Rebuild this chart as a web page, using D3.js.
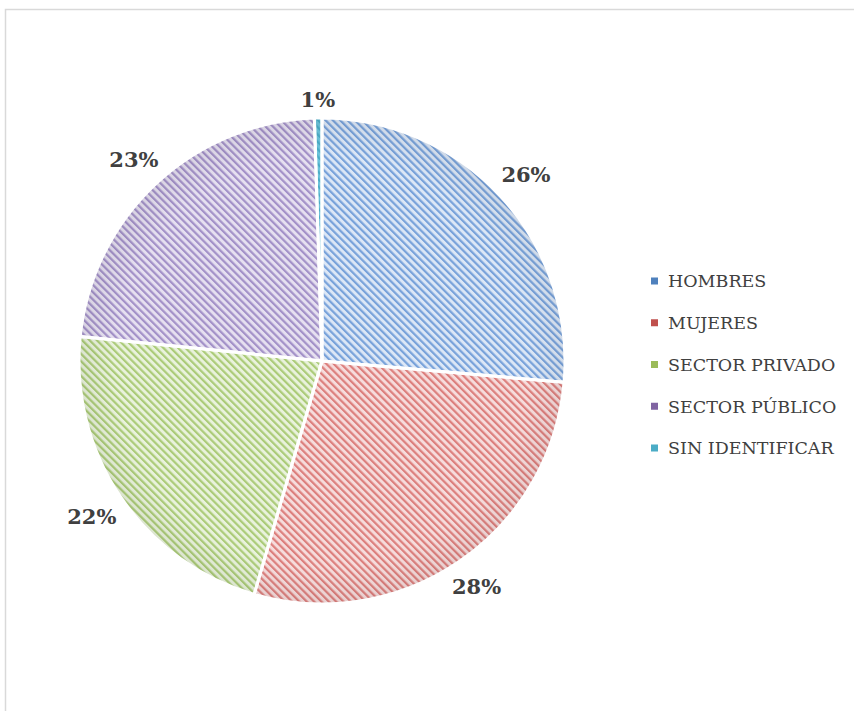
<!DOCTYPE html>
<html>
<head>
<meta charset="utf-8">
<script src="https://cdn.jsdelivr.net/npm/d3@7"></script>
<style>
  html, body { margin: 0; padding: 0; background: #fff; }
  svg { display: block; }
</style>
</head>
<body>
<svg id="chart" width="854" height="711"></svg>
<script>
// Categories, shares and colours
const categories = ["HOMBRES", "MUJERES", "SECTOR PRIVADO", "SECTOR PÚBLICO", "SIN IDENTIFICAR"];
const shares = [26.4, 28.1, 22.1, 22.9, 0.5];
const baseColors = ["#4f81bd", "#c0504d", "#9bbb59", "#8064a2", "#4bacc6"];
const lightColors = ["#dce7f6", "#f6dcdc", "#e9f2dc", "#e6e0f0", "#6cc3da"];
const stripeColors = ["#78a2da", "#dc7f7d", "#abcb78", "#a391c8", "#4bacc6"];

const WIDTH = 854;
const HEIGHT = 711;
const CX = 322;
const CY = 361;
const RADIUS = 243;

// Gap between the label box and the pie edge
const LABEL_PAD = 9;

const svg = d3.select("#chart");

// outer frame of the chart area (runs off the right and bottom)
svg.append("rect")
  .attr("x", 5.5)
  .attr("y", 9.5)
  .attr("width", WIDTH)
  .attr("height", HEIGHT)
  .attr("fill", "#fff")
  .attr("stroke", "#d9d9d9")
  .attr("stroke-width", 1.5);

const defs = svg.append("defs");

// diagonal hatch for each slice
categories.forEach((c, i) => {
  const p = defs.append("pattern")
    .attr("id", "hatch" + i)
    .attr("patternUnits", "userSpaceOnUse")
    .attr("width", 5.2)
    .attr("height", 5.2)
    .attr("patternTransform", "rotate(-45)");
  p.append("rect")
    .attr("width", 5.2)
    .attr("height", 5.2)
    .attr("fill", lightColors[i]);
  p.append("rect")
    .attr("width", 2.2)
    .attr("height", 5.2)
    .attr("fill", stripeColors[i]);
});

// slight darkening towards the rim
const shade = defs.append("radialGradient")
  .attr("id", "shade")
  .attr("gradientUnits", "userSpaceOnUse")
  .attr("cx", 0)
  .attr("cy", 0)
  .attr("r", RADIUS);
shade.append("stop").attr("offset", "0.85").attr("stop-color", "#000").attr("stop-opacity", 0);
shade.append("stop").attr("offset", "1").attr("stop-color", "#000").attr("stop-opacity", 0.06);

const pie = d3.pie()
  .sort(null)
  .value((d) => d);

const arcs = pie(shares);

const arc = d3.arc()
  .innerRadius(0)
  .outerRadius(RADIUS);

const g = svg.append("g")
  .attr("transform", `translate(${CX},${CY})`);

g.selectAll("path.slice")
  .data(arcs)
  .join("path")
  .attr("class", "slice")
  .attr("d", arc)
  .attr("fill", (d, i) => "url(#hatch" + i + ")");

g.selectAll("path.shade")
  .data(arcs)
  .join("path")
  .attr("class", "shade")
  .attr("d", arc)
  .attr("fill", "url(#shade)");

// white separators drawn on top
g.selectAll("path.sep")
  .data(arcs)
  .join("path")
  .attr("class", "sep")
  .attr("d", arc)
  .attr("fill", "none")
  .attr("stroke", "#fff")
  .attr("stroke-width", 3)
  .attr("stroke-linejoin", "round");

// percent labels, placed just outside the rim
const labels = g.selectAll("text.pct")
  .data(arcs)
  .join("text")
  .attr("class", "pct")
  .attr("text-anchor", "middle")
  .attr("dy", "0.36em")
  .attr("font-family", "DejaVu Serif")
  .attr("font-weight", "bold")
  .attr("font-size", 21)
  .attr("fill", "#404040")
  .text((d) => Math.round(d.value) + "%");

labels.attr("transform", function (d) {
  const a = (d.startAngle + d.endAngle) / 2;
  const ux = Math.sin(a);
  const uy = -Math.cos(a);
  const box = this.getBBox();
  const hw = box.width / 2;
  const hh = box.height / 2 - 3;
  const dist = RADIUS + LABEL_PAD + Math.abs(ux) * hw + Math.abs(uy) * hh;
  return `translate(${ux * dist},${uy * dist})`;
});

// legend
const legendY = d3.scalePoint()
  .domain(categories)
  .range([281, 448]);

const legend = svg.append("g");

const item = legend.selectAll("g")
  .data(categories)
  .join("g")
  .attr("transform", (d) => `translate(651,${legendY(d)})`);

item.append("rect")
  .attr("x", 0)
  .attr("y", -3.5)
  .attr("width", 7)
  .attr("height", 7)
  .attr("fill", (d, i) => baseColors[i]);

item.append("text")
  .attr("x", 17)
  .attr("dy", "0.36em")
  .attr("font-family", "DejaVu Serif")
  .attr("font-size", 17.5)
  .attr("fill", "#404040")
  .text((d) => d);
</script>
</body>
</html>
